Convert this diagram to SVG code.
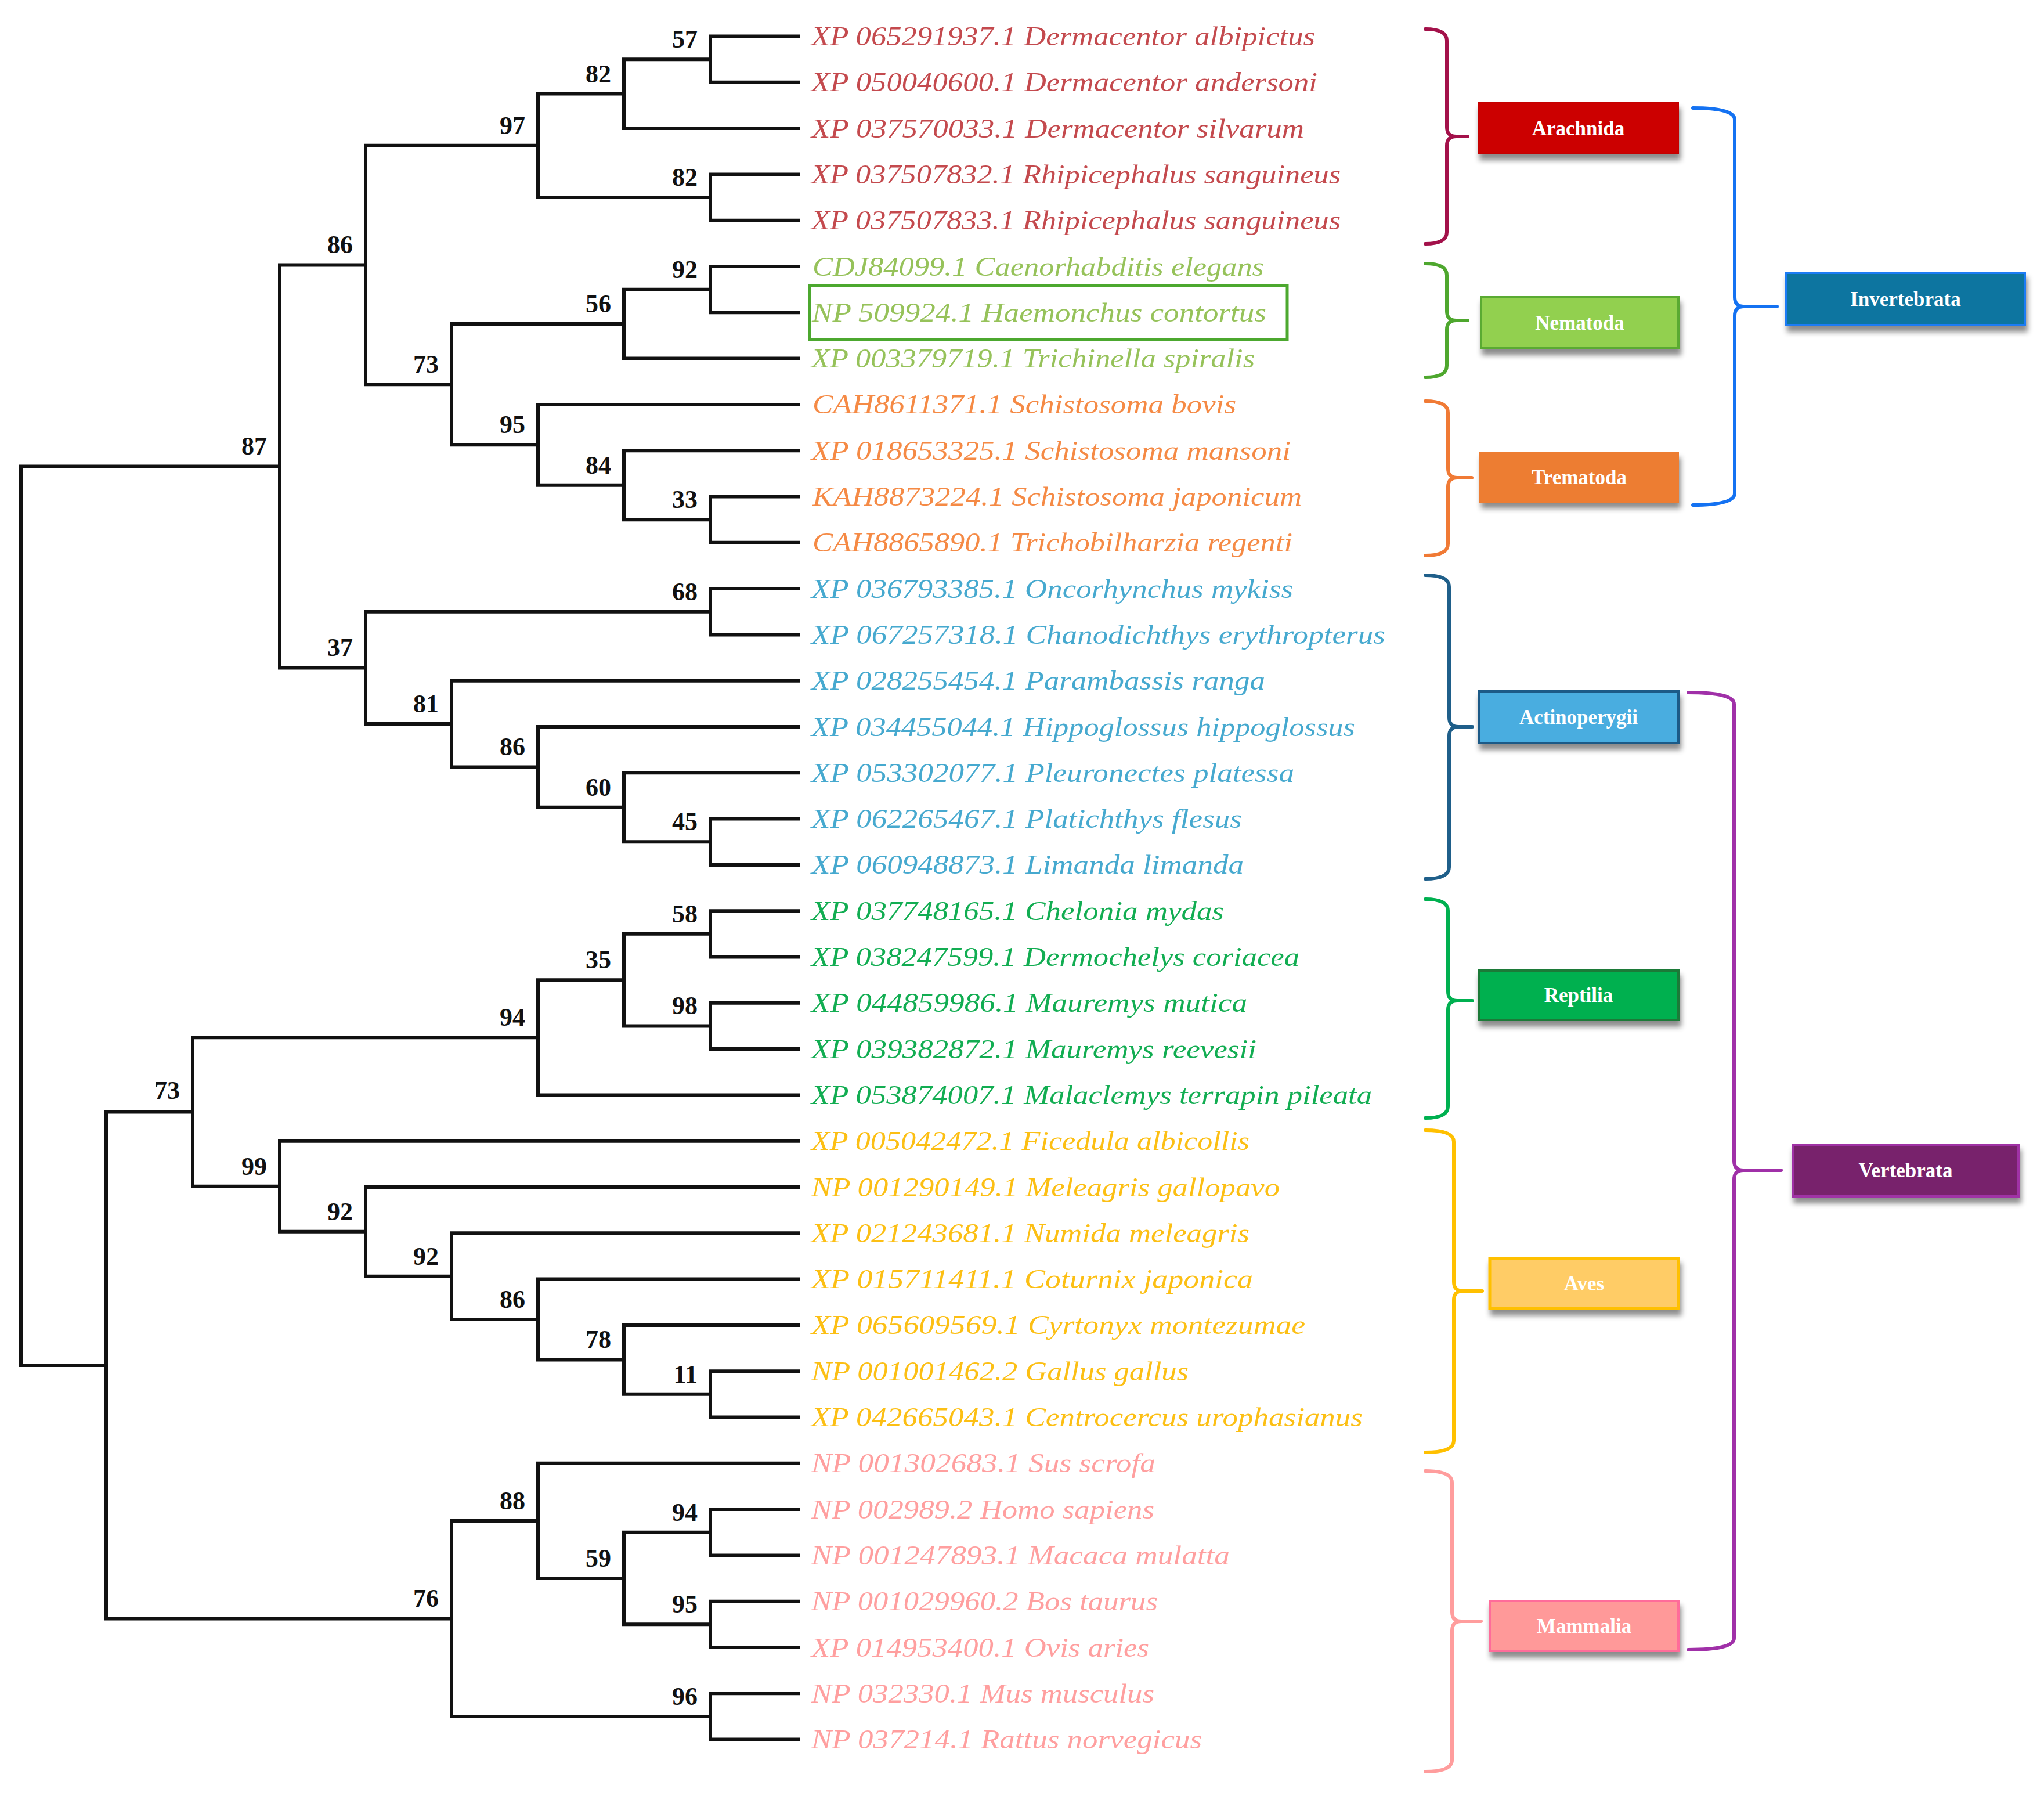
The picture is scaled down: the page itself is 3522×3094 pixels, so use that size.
<svg xmlns="http://www.w3.org/2000/svg" width="3522" height="3094" viewBox="0 0 3522 3094">
<defs>
<filter id="sh" x="-10%" y="-20%" width="125%" height="160%">
<feDropShadow dx="3" dy="10" stdDeviation="5" flood-color="#000" flood-opacity="0.45"/>
</filter>
</defs>
<style>
.tree{fill:none;stroke:#111;stroke-width:6;stroke-linecap:square}
.bs{font-family:"Liberation Serif",serif;font-weight:bold;font-size:44px;fill:#111;text-anchor:end}
.lf{font-family:"Liberation Serif",serif;font-style:italic;font-size:46px}
.br{fill:none;stroke-width:6;stroke-linecap:round;stroke-linejoin:round}
.bx{filter:url(#sh)}
.bt{font-family:"Liberation Serif",serif;font-weight:bold;font-size:35px;fill:#fff;text-anchor:middle}
.ara{fill:#c44a4e}.nem{fill:#96c25a}.tre{fill:#f58a45}.act{fill:#46a9cf}.rep{fill:#12ad52}.ave{fill:#fcbf14}.mam{fill:#ff9f9f}
</style>
<rect width="3522" height="3094" fill="#fff"/>
<g id="connectors">
<path class="tree" d="M482 803.45 H36 V2351.95 H183
M630 456.5 H482 V1150.4 H630
M927 250.8 H630 V662.2 H778
M1075 161.6 H927 V340.05 H1224
M1224 102.15 H1075 V221.1 H1375
M1375 62.5 H1224 V141.8 H1375
M1375 300.4 H1224 V379.7 H1375
M1075 558.1 H778 V766.3 H927
M1224 498.65 H1075 V617.6 H1375
M1375 459 H1224 V538.3 H1375
M1375 696.9 H927 V835.7 H1075
M1375 776.2 H1075 V895.15 H1224
M1375 855.5 H1224 V934.8 H1375
M1224 1053.75 H630 V1247.05 H778
M1375 1014.1 H1224 V1093.4 H1375
M1375 1172.7 H778 V1321.4 H927
M1375 1252 H927 V1390.8 H1075
M1375 1331.3 H1075 V1450.25 H1224
M1375 1410.6 H1224 V1489.9 H1375
M332 1915.5 H183 V2788.4 H778
M927 1787.3 H332 V2043.75 H482
M1075 1688.15 H927 V1886.4 H1375
M1224 1608.85 H1075 V1767.45 H1224
M1375 1569.2 H1224 V1648.5 H1375
M1375 1727.8 H1224 V1807.1 H1375
M1375 1965.7 H482 V2121.8 H630
M1375 2045 H630 V2198.65 H778
M1375 2124.3 H778 V2273 H927
M1375 2203.6 H927 V2342.4 H1075
M1375 2282.9 H1075 V2401.85 H1224
M1375 2362.2 H1224 V2441.5 H1375
M927 2619.9 H778 V2956.95 H1224
M1375 2520.8 H927 V2719.05 H1075
M1224 2639.75 H1075 V2798.35 H1224
M1375 2600.1 H1224 V2679.4 H1375
M1375 2758.7 H1224 V2838 H1375
M1375 2917.3 H1224 V2996.6 H1375"/>
<path class="br" stroke="#a3114a" d="M2456 50 Q2493 50 2493 70 V219 Q2493 235 2509 235 H2529 M2509 235 Q2493 235 2493 251 V400 Q2493 420 2456 420"/>
<path class="br" stroke="#4ea72e" d="M2456 454 Q2493 454 2493 474 V536 Q2493 552 2509 552 H2529 M2509 552 Q2493 552 2493 568 V630 Q2493 650 2456 650"/>
<path class="br" stroke="#f07a35" d="M2456 691 Q2495 691 2495 711 V807 Q2495 823 2511 823 H2536 M2511 823 Q2495 823 2495 839 V937 Q2495 957 2456 957"/>
<path class="br" stroke="#1f5f8a" d="M2456 991 Q2497 991 2497 1011 V1236 Q2497 1252 2513 1252 H2537 M2513 1252 Q2497 1252 2497 1268 V1494 Q2497 1514 2456 1514"/>
<path class="br" stroke="#00b050" d="M2456 1549 Q2495 1549 2495 1569 V1708 Q2495 1724 2511 1724 H2537 M2511 1724 Q2495 1724 2495 1740 V1906 Q2495 1926 2456 1926"/>
<path class="br" stroke="#ffc000" d="M2456 1947 Q2505 1947 2505 1967 V2208 Q2505 2224 2521 2224 H2554 M2521 2224 Q2505 2224 2505 2240 V2482 Q2505 2502 2456 2502"/>
<path class="br" stroke="#ff9d9d" d="M2456 2534 Q2502 2534 2502 2554 V2777 Q2502 2793 2518 2793 H2552 M2518 2793 Q2502 2793 2502 2809 V3032 Q2502 3052 2456 3052"/>
<path class="br" stroke="#1472f2" d="M2917 186 Q2989 186 2989 206 V512 Q2989 528 3005 528 H3062 M3005 528 Q2989 528 2989 544 V850 Q2989 870 2917 870"/>
<path class="br" stroke="#a030a8" d="M2909 1193 Q2988 1193 2988 1213 V2000 Q2988 2016 3004 2016 H3069 M3004 2016 Q2988 2016 2988 2032 V2822 Q2988 2842 2909 2842"/>
</g>
<g id="bootstrap">
<text class="bs" x="1202" y="82">57</text>
<text class="bs" x="1053" y="142">82</text>
<text class="bs" x="1202" y="320">82</text>
<text class="bs" x="905" y="231">97</text>
<text class="bs" x="1202" y="479">92</text>
<text class="bs" x="1053" y="538">56</text>
<text class="bs" x="1202" y="875">33</text>
<text class="bs" x="1053" y="816">84</text>
<text class="bs" x="905" y="746">95</text>
<text class="bs" x="756" y="642">73</text>
<text class="bs" x="608" y="436">86</text>
<text class="bs" x="1202" y="1034">68</text>
<text class="bs" x="1202" y="1430">45</text>
<text class="bs" x="1053" y="1371">60</text>
<text class="bs" x="905" y="1301">86</text>
<text class="bs" x="756" y="1227">81</text>
<text class="bs" x="608" y="1130">37</text>
<text class="bs" x="460" y="783">87</text>
<text class="bs" x="1202" y="1589">58</text>
<text class="bs" x="1202" y="1747">98</text>
<text class="bs" x="1053" y="1668">35</text>
<text class="bs" x="905" y="1767">94</text>
<text class="bs" x="1202" y="2382">11</text>
<text class="bs" x="1053" y="2322">78</text>
<text class="bs" x="905" y="2253">86</text>
<text class="bs" x="756" y="2179">92</text>
<text class="bs" x="608" y="2102">92</text>
<text class="bs" x="460" y="2024">99</text>
<text class="bs" x="310" y="1893">73</text>
<text class="bs" x="1202" y="2620">94</text>
<text class="bs" x="1202" y="2778">95</text>
<text class="bs" x="1053" y="2699">59</text>
<text class="bs" x="905" y="2600">88</text>
<text class="bs" x="1202" y="2937">96</text>
<text class="bs" x="756" y="2768">76</text>
</g>
<g id="leaves">
<g id="leaf0"><text class="lf ara" x="1398" y="78" textLength="868" lengthAdjust="spacingAndGlyphs">XP 065291937.1 Dermacentor albipictus</text></g>
<g id="leaf1"><text class="lf ara" x="1398" y="157.3" textLength="872" lengthAdjust="spacingAndGlyphs">XP 050040600.1 Dermacentor andersoni</text></g>
<g id="leaf2"><text class="lf ara" x="1398" y="236.6" textLength="849" lengthAdjust="spacingAndGlyphs">XP 037570033.1 Dermacentor silvarum</text></g>
<g id="leaf3"><text class="lf ara" x="1398" y="315.9" textLength="912" lengthAdjust="spacingAndGlyphs">XP 037507832.1 Rhipicephalus sanguineus</text></g>
<g id="leaf4"><text class="lf ara" x="1398" y="395.2" textLength="912" lengthAdjust="spacingAndGlyphs">XP 037507833.1 Rhipicephalus sanguineus</text></g>
<g id="leaf5"><text class="lf nem" x="1400" y="474.5" textLength="778" lengthAdjust="spacingAndGlyphs">CDJ84099.1 Caenorhabditis elegans</text></g>
<g id="leaf6"><text class="lf nem" x="1399" y="553.8" textLength="783" lengthAdjust="spacingAndGlyphs">NP 509924.1 Haemonchus contortus</text>
<rect x="1395" y="492" width="823" height="93" fill="none" stroke="#4ca82f" stroke-width="5"/></g>
<g id="leaf7"><text class="lf nem" x="1398" y="633.1" textLength="764" lengthAdjust="spacingAndGlyphs">XP 003379719.1 Trichinella spiralis</text></g>
<g id="leaf8"><text class="lf tre" x="1400" y="712.4" textLength="730" lengthAdjust="spacingAndGlyphs">CAH8611371.1 Schistosoma bovis</text></g>
<g id="leaf9"><text class="lf tre" x="1398" y="791.7" textLength="826" lengthAdjust="spacingAndGlyphs">XP 018653325.1 Schistosoma mansoni</text></g>
<g id="leaf10"><text class="lf tre" x="1400" y="871" textLength="843" lengthAdjust="spacingAndGlyphs">KAH8873224.1 Schistosoma japonicum</text></g>
<g id="leaf11"><text class="lf tre" x="1400" y="950.3" textLength="827" lengthAdjust="spacingAndGlyphs">CAH8865890.1 Trichobilharzia regenti</text></g>
<g id="leaf12"><text class="lf act" x="1398" y="1029.6" textLength="830" lengthAdjust="spacingAndGlyphs">XP 036793385.1 Oncorhynchus mykiss</text></g>
<g id="leaf13"><text class="lf act" x="1398" y="1108.9" textLength="989" lengthAdjust="spacingAndGlyphs">XP 067257318.1 Chanodichthys erythropterus</text></g>
<g id="leaf14"><text class="lf act" x="1398" y="1188.2" textLength="782" lengthAdjust="spacingAndGlyphs">XP 028255454.1 Parambassis ranga</text></g>
<g id="leaf15"><text class="lf act" x="1398" y="1267.5" textLength="937" lengthAdjust="spacingAndGlyphs">XP 034455044.1 Hippoglossus hippoglossus</text></g>
<g id="leaf16"><text class="lf act" x="1398" y="1346.8" textLength="832" lengthAdjust="spacingAndGlyphs">XP 053302077.1 Pleuronectes platessa</text></g>
<g id="leaf17"><text class="lf act" x="1398" y="1426.1" textLength="742" lengthAdjust="spacingAndGlyphs">XP 062265467.1 Platichthys flesus</text></g>
<g id="leaf18"><text class="lf act" x="1398" y="1505.4" textLength="745" lengthAdjust="spacingAndGlyphs">XP 060948873.1 Limanda limanda</text></g>
<g id="leaf19"><text class="lf rep" x="1398" y="1584.7" textLength="711" lengthAdjust="spacingAndGlyphs">XP 037748165.1 Chelonia mydas</text></g>
<g id="leaf20"><text class="lf rep" x="1398" y="1664" textLength="841" lengthAdjust="spacingAndGlyphs">XP 038247599.1 Dermochelys coriacea</text></g>
<g id="leaf21"><text class="lf rep" x="1398" y="1743.3" textLength="751" lengthAdjust="spacingAndGlyphs">XP 044859986.1 Mauremys mutica</text></g>
<g id="leaf22"><text class="lf rep" x="1398" y="1822.6" textLength="767" lengthAdjust="spacingAndGlyphs">XP 039382872.1 Mauremys reevesii</text></g>
<g id="leaf23"><text class="lf rep" x="1398" y="1901.9" textLength="966" lengthAdjust="spacingAndGlyphs">XP 053874007.1 Malaclemys terrapin pileata</text></g>
<g id="leaf24"><text class="lf ave" x="1398" y="1981.2" textLength="755" lengthAdjust="spacingAndGlyphs">XP 005042472.1 Ficedula albicollis</text></g>
<g id="leaf25"><text class="lf ave" x="1398" y="2060.5" textLength="807" lengthAdjust="spacingAndGlyphs">NP 001290149.1 Meleagris gallopavo</text></g>
<g id="leaf26"><text class="lf ave" x="1398" y="2139.8" textLength="755" lengthAdjust="spacingAndGlyphs">XP 021243681.1 Numida meleagris</text></g>
<g id="leaf27"><text class="lf ave" x="1398" y="2219.1" textLength="761" lengthAdjust="spacingAndGlyphs">XP 015711411.1 Coturnix japonica</text></g>
<g id="leaf28"><text class="lf ave" x="1398" y="2298.4" textLength="851" lengthAdjust="spacingAndGlyphs">XP 065609569.1 Cyrtonyx montezumae</text></g>
<g id="leaf29"><text class="lf ave" x="1398" y="2377.7" textLength="650" lengthAdjust="spacingAndGlyphs">NP 001001462.2 Gallus gallus</text></g>
<g id="leaf30"><text class="lf ave" x="1398" y="2457" textLength="950" lengthAdjust="spacingAndGlyphs">XP 042665043.1 Centrocercus urophasianus</text></g>
<g id="leaf31"><text class="lf mam" x="1398" y="2536.3" textLength="593" lengthAdjust="spacingAndGlyphs">NP 001302683.1 Sus scrofa</text></g>
<g id="leaf32"><text class="lf mam" x="1398" y="2615.6" textLength="591" lengthAdjust="spacingAndGlyphs">NP 002989.2 Homo sapiens</text></g>
<g id="leaf33"><text class="lf mam" x="1398" y="2694.9" textLength="721" lengthAdjust="spacingAndGlyphs">NP 001247893.1 Macaca mulatta</text></g>
<g id="leaf34"><text class="lf mam" x="1398" y="2774.2" textLength="597" lengthAdjust="spacingAndGlyphs">NP 001029960.2 Bos taurus</text></g>
<g id="leaf35"><text class="lf mam" x="1398" y="2853.5" textLength="582" lengthAdjust="spacingAndGlyphs">XP 014953400.1 Ovis aries</text></g>
<g id="leaf36"><text class="lf mam" x="1398" y="2932.8" textLength="591" lengthAdjust="spacingAndGlyphs">NP 032330.1 Mus musculus</text></g>
<g id="leaf37"><text class="lf mam" x="1398" y="3012.1" textLength="673" lengthAdjust="spacingAndGlyphs">NP 037214.1 Rattus norvegicus</text></g>
</g>
<g id="box-arachnida"><rect class="bx" x="2547" y="177" width="345" height="88" fill="#cc0000" stroke="#c40000" stroke-width="2"/><text class="bt" x="2719.5" y="233">Arachnida</text></g>
<g id="box-nematoda"><rect class="bx" x="2552" y="512" width="340" height="88" fill="#92d050" stroke="#5aaa32" stroke-width="4"/><text class="bt" x="2722" y="568">Nematoda</text></g>
<g id="box-trematoda"><rect class="bx" x="2550" y="779" width="342" height="86" fill="#ed7d31" stroke="#ed7d31" stroke-width="2"/><text class="bt" x="2721" y="834">Trematoda</text></g>
<g id="box-invertebrata"><rect class="bx" x="3078" y="470" width="411" height="90" fill="#0e74a0" stroke="#1a7cf5" stroke-width="4"/><text class="bt" x="3283.5" y="527">Invertebrata</text></g>
<g id="box-actinopterygii"><rect class="bx" x="2548" y="1191" width="344" height="89" fill="#4aade0" stroke="#1d5a87" stroke-width="4"/><text class="bt" x="2720" y="1247">Actinoperygii</text></g>
<g id="box-reptilia"><rect class="bx" x="2548" y="1672" width="344" height="85" fill="#00b050" stroke="#1f7a38" stroke-width="4"/><text class="bt" x="2720" y="1726">Reptilia</text></g>
<g id="box-vertebrata"><rect class="bx" x="3089" y="1972" width="389" height="89" fill="#78206c" stroke="#a033a5" stroke-width="4"/><text class="bt" x="3283.5" y="2028">Vertebrata</text></g>
<g id="box-aves"><rect class="bx" x="2567" y="2168" width="325" height="86" fill="#ffcc66" stroke="#ffc000" stroke-width="5"/><text class="bt" x="2729.5" y="2223">Aves</text></g>
<g id="box-mammalia"><rect class="bx" x="2567" y="2758" width="325" height="86" fill="#ff9999" stroke="#ff6c9a" stroke-width="4"/><text class="bt" x="2729.5" y="2813">Mammalia</text></g>
</svg>
